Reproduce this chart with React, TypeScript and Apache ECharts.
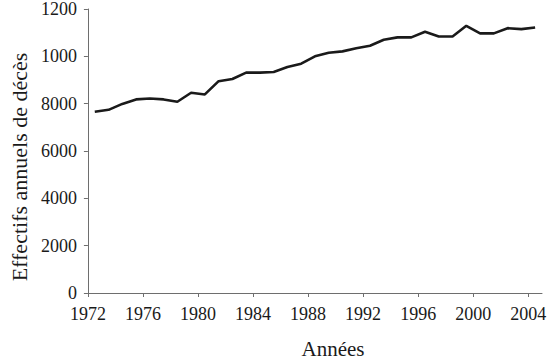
import React, { useEffect, useRef } from "react";
import * as echarts from "echarts";

const years: number[] = [
  1972, 1973, 1974, 1975, 1976, 1977, 1978, 1979, 1980, 1981, 1982,
  1983, 1984, 1985, 1986, 1987, 1988, 1989, 1990, 1991, 1992, 1993,
  1994, 1995, 1996, 1997, 1998, 1999, 2000, 2001, 2002, 2003, 2004,
];
const deaths: number[] = [
  7660, 7740, 7990, 8180, 8220, 8180, 8080, 8460, 8390, 8950, 9040,
  9310, 9310, 9340, 9550, 9690, 10000, 10150, 10210, 10340, 10450, 10700,
  10800, 10800, 11040, 10840, 10840, 11290, 10970, 10970, 11190, 11150, 11220,
];
const yTickValues: number[] = [0, 2000, 4000, 6000, 8000, 10000, 12000];
const yTickLabels: string[] = ["0", "2000", "4000", "6000", "8000", "1000", "1200"];
const xTickValues: number[] = [1972, 1976, 1980, 1984, 1988, 1992, 1996, 2000, 2004];

const FONT = "'Liberation Serif', 'DejaVu Serif', serif";

export default function App() {
  const ref = useRef<HTMLDivElement>(null);
  useEffect(() => {
    if (!ref.current) return;
    const chart = echarts.init(ref.current, null, { renderer: "svg" });
    chart.setOption({
      animation: false,
      backgroundColor: "#ffffff",
      grid: { left: 83, right: 13, top: 8, bottom: 69, containLabel: false },
      xAxis: {
        type: "value",
        min: 1972,
        max: 2005,
        interval: 4,
        name: "Années",
        nameLocation: "middle",
        nameGap: 45,
        nameTextStyle: { fontFamily: FONT, fontSize: 21, color: "#1a1a1a", padding: [0, 0, 0, 36] },
        axisLine: { show: true, onZero: false, lineStyle: { color: "#6e6e6e", width: 1 } },
        axisTick: { show: true, length: 4, customValues: xTickValues, lineStyle: { color: "#6e6e6e" } },
        axisLabel: {
          customValues: xTickValues,
          margin: 12,
          fontFamily: FONT,
          fontSize: 18,
          color: "#1a1a1a",
          formatter: (v: number) => String(v),
        },
        splitLine: { show: false },
      },
      yAxis: {
        type: "value",
        min: 0,
        max: 12000,
        interval: 2000,
        name: "Effectifs annuels de décès",
        nameLocation: "middle",
        nameGap: 52,
        nameTextStyle: { fontFamily: FONT, fontSize: 22, color: "#1a1a1a", padding: [0, 32, 0, 0] },
        axisLine: { show: true, lineStyle: { color: "#6e6e6e", width: 1 } },
        axisTick: { show: true, length: 4, lineStyle: { color: "#6e6e6e" } },
        axisLabel: {
          margin: 11,
          fontFamily: FONT,
          fontSize: 18,
          color: "#1a1a1a",
          formatter: (v: number) => {
            const i = yTickValues.indexOf(v);
            return i >= 0 ? yTickLabels[i] : "";
          },
        },
        splitLine: { show: false },
      },
      series: [
        {
          type: "line",
          data: years.map((y, i) => [y + 0.5, deaths[i]]),
          symbol: "none",
          lineStyle: { color: "#1a1a1a", width: 2.6 },
        },
      ],
    });
    return () => chart.dispose();
  }, []);
  return (
    <div
      ref={ref}
      style={{ position: "fixed", left: 0, top: 0, width: 555, height: 364, background: "#fff" }}
    />
  );
}
